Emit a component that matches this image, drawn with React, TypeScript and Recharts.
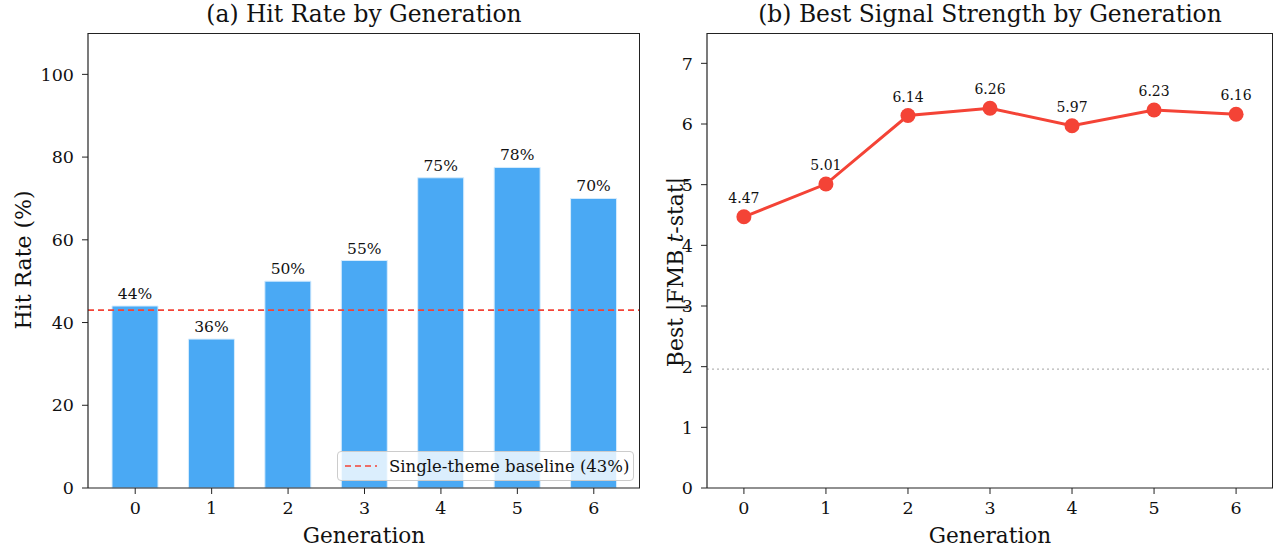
import React from 'react';
import {
  BarChart, Bar, LineChart, Line, XAxis, YAxis, ReferenceLine, LabelList,
} from 'recharts';

const generations = [0, 1, 2, 3, 4, 5, 6];
const hitRates = [44, 36, 50, 55, 75, 77.5, 70];
const bestTStats = [4.47, 5.01, 6.14, 6.26, 5.97, 6.23, 6.16];
const hitTicks = [0, 20, 40, 60, 80, 100];
const tTicks = [0, 1, 2, 3, 4, 5, 6, 7];
const baselineHitRate = 43;
const tThreshold = 1.96;

const barData = generations.map((g, i) => ({ gen: g, hit: hitRates[i] }));
const lineData = generations.map((g, i) => ({ gen: g, t: bestTStats[i] }));

const FONT = '"DejaVu Serif", serif';
const BLUE = '#4aa9f4';
const RED = '#f44336';
const AXIS = '#222';
const tickStyle = { fontSize: 17.5, fill: '#111' };
const axisLine = { stroke: AXIS, strokeWidth: 1.2 };

const HitLabel = () => (
  <text x={23} y={260} transform="rotate(-90 23 260)" textAnchor="middle" dominantBaseline="central" fontSize={22} fill="#111">
    Hit Rate (%)
  </text>
);

const TLabel = () => (
  <text x={35} y={272} transform="rotate(-90 35 272)" textAnchor="middle" dominantBaseline="central" fontSize={22} fill="#111" xmlSpace="preserve">
    {'Best |FMB '}<tspan fontStyle="italic">t</tspan>{'-stat|'}
  </text>
);

const frame = (left: number, width: number): React.CSSProperties => ({
  position: 'absolute', left, top: 33, width, height: 455, boxSizing: 'border-box',
  borderTop: `1.2px solid ${AXIS}`, borderRight: `1.2px solid ${AXIS}`, pointerEvents: 'none',
});

export default function App() {
  return (
    <div style={{ position: 'absolute', left: 0, top: 0, width: 1281, height: 550, fontFamily: FONT, background: '#fff' }}>
      <div style={{ position: 'absolute', left: 88, width: 552, top: 0, textAlign: 'center', fontSize: 23.4, color: '#111', lineHeight: '28px' }}>
        (a) Hit Rate by Generation
      </div>
      <div style={{ position: 'absolute', left: 707, width: 566, top: 0, textAlign: 'center', fontSize: 23.4, color: '#111', lineHeight: '28px' }}>
        (b) Best Signal Strength by Generation
      </div>

      <div style={{ position: 'absolute', left: 0, top: 0 }}>
        <BarChart width={641} height={550} data={barData} margin={{ top: 33, right: 1, bottom: 0, left: 28 }} barCategoryGap={0}>
          <XAxis dataKey="gen" height={62} padding={{ left: 9, right: 8 }} tick={tickStyle} tickMargin={8}
            axisLine={axisLine} tickLine={{ stroke: AXIS }}
            label={{ value: 'Generation', position: 'insideBottom', offset: 7, fontSize: 21.6, fill: '#111' }} />
          <YAxis domain={[0, 110]} ticks={hitTicks} width={60} tick={tickStyle} tickMargin={8}
            axisLine={axisLine} tickLine={{ stroke: AXIS }} label={<HitLabel />} />
          <Bar dataKey="hit" fill={BLUE} stroke="#d6ecfd" strokeWidth={1} barSize={46} isAnimationActive={false}>
            <LabelList dataKey="hit" position="top" offset={7} fontSize={15.5} fill="#111" formatter={(v: any) => `${Math.round(Number(v))}%`} />
          </Bar>
          <ReferenceLine y={baselineHitRate} stroke={RED} strokeWidth={1.6} strokeDasharray="6 4" />
        </BarChart>
      </div>
      <div style={frame(88, 552)} />

      <div style={{ position: 'absolute', left: 337, top: 451, width: 297, height: 30, boxSizing: 'border-box', background: 'rgba(255,255,255,0.8)', border: '1px solid #ccc', borderRadius: 4, display: 'flex', alignItems: 'center', fontSize: 16.5, color: '#111', whiteSpace: 'nowrap', overflow: 'visible' }}>
        <svg width={46} height={10} style={{ marginLeft: 5, flexShrink: 0 }}>
          <line x1={2} y1={5} x2={34} y2={5} stroke={RED} strokeWidth={1.6} strokeDasharray="6 4" />
        </svg>
        <span>Single-theme baseline (43%)</span>
      </div>

      <div style={{ position: 'absolute', left: 640, top: 0 }}>
        <LineChart width={641} height={550} data={lineData} margin={{ top: 33, right: 8, bottom: 0, left: 17 }}>
          <XAxis dataKey="gen" type="number" domain={[-0.45, 6.45]} ticks={generations} allowDataOverflow height={62}
            tick={tickStyle} tickMargin={8} axisLine={axisLine} tickLine={{ stroke: AXIS }}
            label={{ value: 'Generation', position: 'insideBottom', offset: 7, fontSize: 21.6, fill: '#111' }} />
          <YAxis domain={[0, 7.5]} ticks={tTicks} width={50} tick={tickStyle} tickMargin={8} allowDataOverflow
            axisLine={axisLine} tickLine={{ stroke: AXIS }} label={<TLabel />} />
          <ReferenceLine y={tThreshold} stroke="#b5b5b5" strokeWidth={1.2} strokeDasharray="2 3" />
          <Line dataKey="t" stroke={RED} strokeWidth={3} dot={{ r: 7.5, fill: RED, stroke: RED, strokeWidth: 0 }} isAnimationActive={false}>
            <LabelList dataKey="t" position="top" offset={14} fontSize={14} fill="#111" formatter={(v: any) => Number(v).toFixed(2)} />
          </Line>
        </LineChart>
      </div>
      <div style={frame(707, 566)} />
    </div>
  );
}
